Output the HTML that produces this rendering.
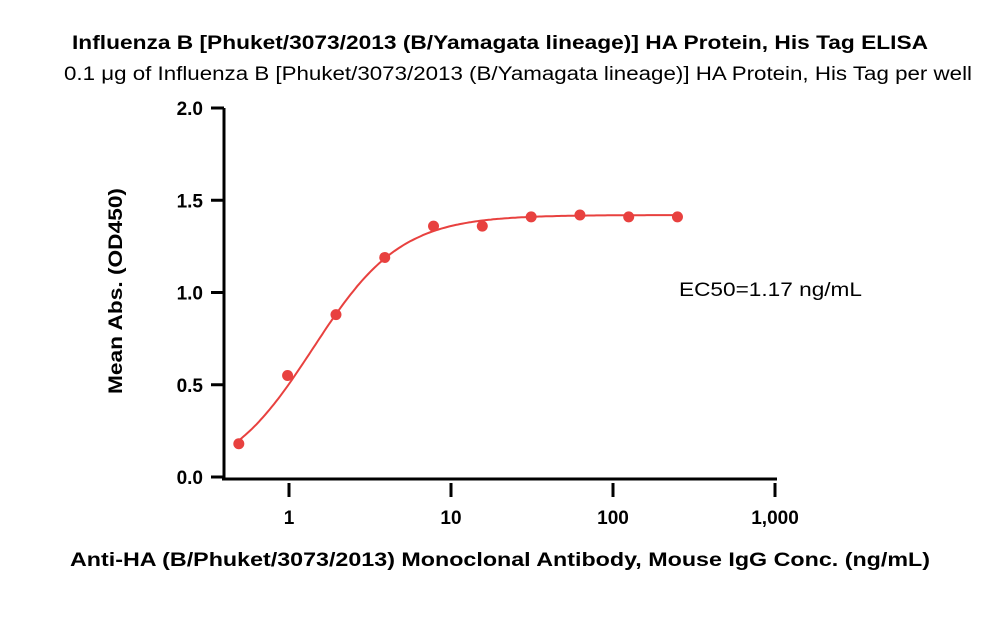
<!DOCTYPE html>
<html><head><meta charset="utf-8"><style>
body{margin:0;background:#fff;width:1000px;height:632px;overflow:hidden}
text{font-family:"Liberation Sans",sans-serif}
</style></head><body>
<svg id="chart" width="1000" height="632" viewBox="0 0 1000 632">
<text x="500" y="49" text-anchor="middle" font-size="19" font-weight="bold" textLength="856" lengthAdjust="spacingAndGlyphs">Influenza B [Phuket/3073/2013 (B/Yamagata lineage)] HA Protein, His Tag ELISA</text>
<text x="518" y="80" text-anchor="middle" font-size="19" textLength="908" lengthAdjust="spacingAndGlyphs">0.1 μg of Influenza B [Phuket/3073/2013 (B/Yamagata lineage)] HA Protein, His Tag per well</text>
<text transform="translate(122,291) rotate(-90)" text-anchor="middle" font-size="19" font-weight="bold" textLength="206" lengthAdjust="spacingAndGlyphs">Mean Abs. (OD450)</text>
<text x="500" y="566" text-anchor="middle" font-size="19" font-weight="bold" textLength="860" lengthAdjust="spacingAndGlyphs">Anti-HA (B/Phuket/3073/2013) Monoclonal Antibody, Mouse IgG Conc. (ng/mL)</text>
<text x="679" y="296" font-size="19" textLength="183" lengthAdjust="spacingAndGlyphs">EC50=1.17 ng/mL</text>
<g id="axes"></g><g id="marks"></g>
</svg>
<script>
const concentrations=[0.49,0.98,1.95,3.9,7.8,15.6,31.25,62.5,125,250];
const absorbance=[0.18,0.55,0.88,1.19,1.36,1.36,1.41,1.42,1.41,1.41];
const yTicks=[0,0.5,1.0,1.5,2.0];
const xTicks=[1,10,100,1000];
const xTickLabels=["1","10","100","1,000"];
const fitTop=1.42, fitBottom=-0.03, fitEC50=1.4, fitHill=1.6;
const NS="http://www.w3.org/2000/svg";
const xS=v=>289+162*Math.log10(v);
const yS=v=>477-184.5*v;
function mk(t,a,p){const e=document.createElementNS(NS,t);for(const k in a)e.setAttribute(k,a[k]);p.appendChild(e);return e;}
const ax=document.getElementById('axes'),mg=document.getElementById('marks');
let l=mk('line',{x1:224,y1:yS(2),x2:224,y2:480,stroke:'#000','stroke-width':3},ax);


l=mk('line',{x1:222,y1:479,x2:777,y2:479,stroke:'#000','stroke-width':3},ax);


yTicks.forEach(v=>{
 const t=mk('line',{x1:211,y1:yS(v),x2:224,y2:yS(v),stroke:'#000','stroke-width':3},ax);
 
 
 const tx=mk('text',{x:203,y:yS(v)+7,'text-anchor':'end','font-size':19,'font-weight':'bold'},ax);
 tx.textContent=v.toFixed(1);
 
 
});
xTicks.forEach((v,i)=>{
 const t=mk('line',{x1:xS(v),y1:483,x2:xS(v),y2:497,stroke:'#000','stroke-width':3},ax);
 
 
 const tx=mk('text',{x:xS(v),y:524,'text-anchor':'middle','font-size':19,'font-weight':'bold'},ax);
 tx.textContent=xTickLabels[i];
 
 
});
let d='';
for(let i=0;i<=200;i++){const lx=Math.log10(concentrations[0])+i/200*(Math.log10(concentrations[concentrations.length-1])-Math.log10(concentrations[0]));const c=Math.pow(10,lx);
 const y=fitBottom+(fitTop-fitBottom)/(1+Math.pow(fitEC50/c,fitHill));d+=(i?'L':'M')+xS(c).toFixed(1)+','+yS(y).toFixed(1);}
const p=mk('path',{d:d,fill:'none',stroke:'#e8413f','stroke-width':2},mg);


concentrations.forEach((c,i)=>{
 const pt=mk('circle',{cx:xS(c),cy:yS(absorbance[i]),r:5.5,fill:'#e8413f'},mg);
 
 
});
</script>
</body></html>
